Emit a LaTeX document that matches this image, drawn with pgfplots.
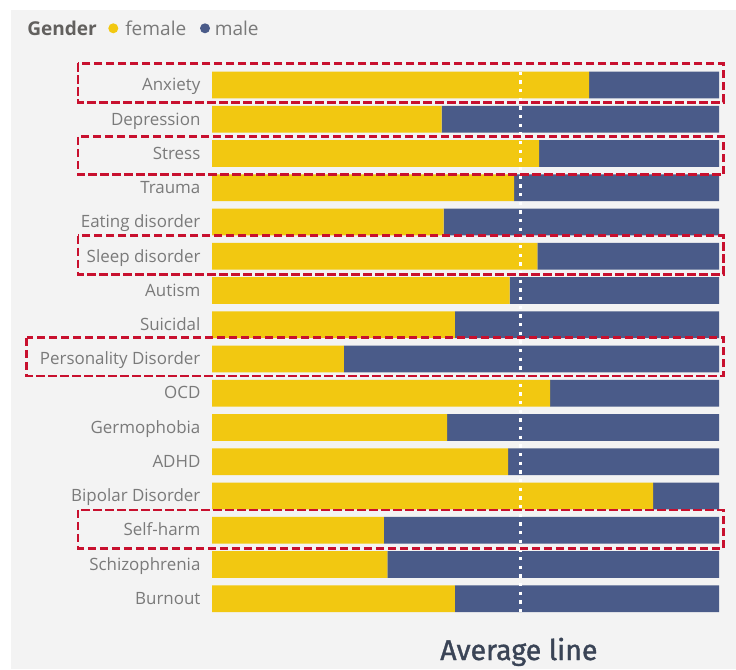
\documentclass[border=0pt]{standalone}
\usepackage{fontspec}
\setmainfont{Open Sans}
\newfontfamily\titlefont[FakeBold=1.2]{Fira Sans}
\usepackage{pgfplots}
\usepackage{pgfplotstable}
\pgfplotsset{compat=1.18}

\definecolor{female}{RGB}{242,200,17}
\definecolor{male}{RGB}{74,91,137}
\definecolor{panelbg}{RGB}{243,243,243}
\definecolor{labelgray}{RGB}{122,122,122}
\definecolor{headgray}{RGB}{98,96,94}
\definecolor{boxred}{RGB}{200,16,46}
\definecolor{captioncol}{RGB}{58,68,86}

% share of each gender per condition (percent)
\pgfplotstableread{
idx female male
0  74.4 25.6
1  45.3 54.7
2  64.5 35.5
3  59.6 40.4
4  45.7 54.3
5  64.2 35.8
6  58.7 41.3
7  47.9 52.1
8  26.0 74.0
9  66.7 33.3
10 46.4 53.6
11 58.4 41.6
12 87.0 13.0
13 33.9 66.1
14 34.6 65.4
15 47.9 52.1
}\gendershare

\begin{document}
\begin{tikzpicture}
\begin{scope}[x=0.75pt,y=-0.75pt]
  \fill[white] (0,0) rectangle (736,670);
  \fill[panelbg] (11,10) rectangle (736,669);
  % legend
  \node[anchor=base west, inner sep=0pt, text=headgray, font=\bfseries\fontsize{14.3}{16}\selectfont] at (27,35.7) {Gender};
  \fill[female] (113.3,28.3) circle (5);
  \node[anchor=base west, inner sep=0pt, text=labelgray, font=\fontsize{14.3}{16}\selectfont] at (125,35.7) {female};
  \fill[male] (205,28.3) circle (5);
  \node[anchor=base west, inner sep=0pt, text=labelgray, font=\fontsize{14.3}{16}\selectfont] at (214.5,35.7) {male};
  % caption under the bars
  \node[anchor=base west, inner sep=0pt, text=captioncol, font=\titlefont\fontsize{21.4}{26}\selectfont] at (440,660) {Average line};
\end{scope}

\begin{axis}[
  at={(159pt,-461.85pt)}, anchor=south west,
  scale only axis,
  width=380.25pt, height=410.9pt,
  xbar stacked,
  bar width=0.78,
  xmin=0, xmax=100,
  ymin=-0.5, ymax=15.5,
  y dir=reverse,
  enlargelimits=false,
  clip=false,
  axis line style={draw=none},
  major tick length=0pt,
  xtick=\empty,
  ytick={0,...,15},
  yticklabels={Anxiety,Depression,Stress,Trauma,Eating disorder,Sleep disorder,Autism,Suicidal,Personality Disorder,OCD,Germophobia,ADHD,Bipolar Disorder,Self-harm,Schizophrenia,Burnout},
  yticklabel style={anchor=base east, inner sep=0pt, xshift=-8.5pt, yshift=-4.3pt,
    text=labelgray, font=\fontsize{12.7}{15}\selectfont},
]
\addplot[fill=female, draw=none] table[x=female, y=idx] {\gendershare};
\addplot[fill=male, draw=none] table[x=male, y=idx] {\gendershare};

% average share of women (60.8 %)
\coordinate (avgtop) at (axis cs:60.8,-0.39);
\coordinate (avgbot) at (axis cs:60.8,15.39);

% corners of the highlight frames
\coordinate (a1) at (axis cs:-26.4,-0.63);  \coordinate (b1) at (axis cs:100.9,0.50);
\coordinate (a2) at (axis cs:-26.4,1.51);   \coordinate (b2) at (axis cs:100.9,2.62);
\coordinate (a3) at (axis cs:-26.4,4.40);   \coordinate (b3) at (axis cs:100.9,5.53);
\coordinate (a4) at (axis cs:-36.55,7.38);  \coordinate (b4) at (axis cs:100.9,8.50);
\coordinate (a5) at (axis cs:-26.4,12.41);  \coordinate (b5) at (axis cs:100.9,13.53);
\end{axis}

\draw[white, line width=2.5pt, dash pattern=on 2.5pt off 4pt] (avgtop) -- (avgbot);

\draw[boxred, line width=2pt, dash pattern=on 6.3pt off 2.7pt]
  (a1) rectangle (b1) (a2) rectangle (b2) (a3) rectangle (b3)
  (a4) rectangle (b4) (a5) rectangle (b5);
\end{tikzpicture}
\end{document}
